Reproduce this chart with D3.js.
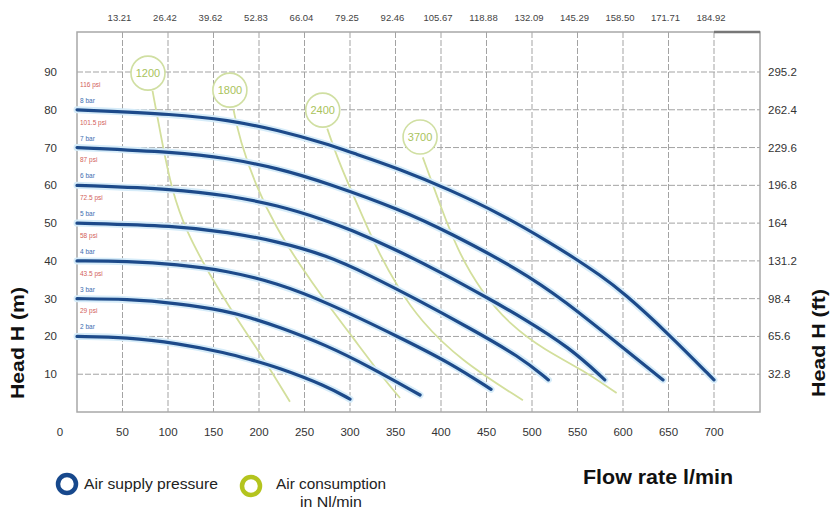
<!DOCTYPE html>
<html><head><meta charset="utf-8">
<script src="https://cdn.jsdelivr.net/npm/d3@7"></script>
<style>body{margin:0;background:#fff} svg{display:block}</style>
</head><body>
<svg id="c" width="830" height="510"></svg>
<script>
// ---------- data ----------
const flowTicks = [0,50,100,150,200,250,300,350,400,450,500,550,600,650,700];
const gpmLabels = ["13.21","26.42","39.62","52.83","66.04","79.25","92.46","105.67","118.88","132.09","145.29","158.50","171.71","184.92"];
const headTicks = [10,20,30,40,50,60,70,80,90];
const feetLabels = ["32.8","65.6","98.4","131.2","164","196.8","229.6","262.4","295.2"];

const barLabels = ["2 bar","3 bar","4 bar","5 bar","6 bar","7 bar","8 bar"];
const psiLabels = ["29 psi","43.5 psi","58 psi","72.5 psi","87 psi","101.5 psi","116 psi"];

// pump curves: [flow l/min, head m]
const curve2bar = [[0,20],[55,19.8],[110,18.2],[165,15.6],[190,13.9],[220,11.9],[275,6.8],[300,3.4]];
const curve3bar = [[0,30],[55,29.9],[110,28.8],[165,26.7],[190,25],[220,22.7],[275,17.6],[322,11.9],[377,4.5]];
const curve4bar = [[0,40],[55,39.9],[110,39.1],[165,37.4],[220,34.1],[275,29],[355,19.7],[410,13],[455,6]];
const curve5bar = [[0,50],[110,49.3],[165,47.6],[220,45.2],[275,41.4],[320,36.4],[375,29.6],[430,22.4],[487,14.6],[518,8.5]];
const curve6bar = [[0,60],[110,59],[165,57.3],[220,54.8],[275,50.6],[300,48.3],[345,43.6],[400,37],[457,29.4],[487,25.3],[542,17],[580,8.5]];
const curve7bar = [[0,70],[110,68.8],[165,67.2],[220,64.6],[275,60.6],[355,53.6],[410,47.4],[487,37.5],[535,29.6],[597,17.6],[644,8.5]];
const curve8bar = [[0,80],[110,78.8],[165,77.3],[220,74.7],[275,70.9],[300,68.8],[355,64.3],[410,58.8],[465,52.5],[520,44.8],[545,41],[575,36.2],[600,31.7],[650,20.7],[700,8.5]];

// air consumption lines (Nl/min)
const airLabels = ["1200","1800","2400","3700"];
const air1200 = [[83,85],[93,72],[104,58.8],[120,47.7],[146,36.3],[171,26.3],[204,14.6],[234,2.7]];
const air1800 = [[172,80],[179,72],[196,60.1],[219,48.7],[245,38.9],[272,29.6],[305,19.1],[338,8.5],[355,3.7]];
const air2400 = [[275,75],[289,65.3],[311,53.4],[330,42.8],[353,32.8],[377,24.3],[421,13.7],[490,3.1]];
const air3700 = [[380,67.4],[399,54.8],[418,42.9],[443,32.3],[476,23],[514,16.4],[556,11.1],[593,5]];
const airBubbles = [[78,89.7],[168,85.2],[270,79.9],[377,72.8]];

// ---------- drawing ----------
const svg = d3.select("#c");
const x = d3.scaleLinear().domain([0,700]).range([77,714]);
const y = d3.scaleLinear().domain([0,90]).range([412,72]);
const plotL = x(0), plotB = y(0), plotR = 760, plotT = 32;

const font = "'Liberation Sans', Arial, sans-serif";

// grid
svg.append("g").selectAll("line").data(flowTicks.slice(1)).join("line")
  .attr("x1", d => x(d)).attr("x2", d => x(d)).attr("y1", plotT).attr("y2", plotB)
  .attr("stroke", "#a3a3a3").attr("stroke-width", 1).attr("stroke-dasharray", "6,2");
svg.append("g").selectAll("line").data(headTicks).join("line")
  .attr("x1", plotL).attr("x2", plotR).attr("y1", d => y(d)).attr("y2", d => y(d))
  .attr("stroke", "#a3a3a3").attr("stroke-width", 1).attr("stroke-dasharray", "6,2");

// frame
svg.append("rect").attr("x", plotL).attr("y", plotT).attr("width", plotR-plotL).attr("height", plotB-plotT)
  .attr("fill", "none").attr("stroke", "#a8a8a8").attr("stroke-width", 1.5);
svg.append("line").attr("x1", x(700)).attr("x2", plotR).attr("y1", plotT).attr("y2", plotT)
  .attr("stroke", "#777").attr("stroke-width", 2.5);

// axis labels
svg.append("g").selectAll("text").data(headTicks).join("text")
  .attr("x", 57).attr("y", d => y(d)).attr("dy", "0.35em").attr("text-anchor", "end")
  .attr("font-family", font).attr("font-size", 11.5).attr("fill", "#333").text(d => d);
svg.append("g").selectAll("text").data(headTicks).join("text")
  .attr("x", 768).attr("y", d => y(d)).attr("dy", "0.35em").attr("text-anchor", "start")
  .attr("font-family", font).attr("font-size", 11.5).attr("fill", "#333").text((d,i) => feetLabels[i]);
svg.append("g").selectAll("text").data(flowTicks).join("text")
  .attr("x", d => d === 0 ? 60 : x(d)).attr("y", 436).attr("text-anchor", "middle")
  .attr("font-family", font).attr("font-size", 11.5).attr("fill", "#333").text(d => d);
svg.append("g").selectAll("text").data(flowTicks.slice(1)).join("text")
  .attr("x", d => x(d) - 3).attr("y", 21).attr("text-anchor", "middle")
  .attr("font-family", font).attr("font-size", 9.5).attr("fill", "#444").text((d,i) => gpmLabels[i]);

// air consumption lines
const line = d3.line().x(d => x(d[0])).y(d => y(d[1])).curve(d3.curveBasis);
const airSeries = [air1200, air1800, air2400, air3700];
svg.append("g").selectAll("path").data(airSeries).join("path")
  .attr("d", line).attr("fill", "none").attr("stroke", "#d3df9c").attr("stroke-width", 1.8);

const bub = svg.append("g").selectAll("g").data(airBubbles).join("g")
  .attr("transform", d => `translate(${x(d[0])},${y(d[1])})`);
bub.append("circle").attr("r", 17).attr("fill", "#fff").attr("stroke", "#d0dfa2").attr("stroke-width", 1.6);
bub.append("text").attr("text-anchor", "middle").attr("dy", "0.35em")
  .attr("font-family", font).attr("font-size", 11).attr("fill", "#a9c35c").text((d,i) => airLabels[i]);

// pump curves
const curves = [curve2bar, curve3bar, curve4bar, curve5bar, curve6bar, curve7bar, curve8bar];
const cg = svg.append("g");
cg.append("g").selectAll("path").data(curves).join("path")
  .attr("d", line).attr("fill", "none").attr("stroke", "#d6ecf9").attr("stroke-width", 7)
  .attr("stroke-linecap", "round");
cg.append("g").selectAll("path").data(curves).join("path")
  .attr("d", line).attr("fill", "none").attr("stroke", "#1d4a8a").attr("stroke-width", 3.2)
  .attr("stroke-linecap", "round");

// bar / psi labels
svg.append("g").selectAll("text").data(curves).join("text")
  .attr("x", 80).attr("y", d => y(d[0][1]) - 7)
  .attr("font-family", font).attr("font-size", 6.5).attr("fill", "#3d6db0").text((d,i) => barLabels[i]);
svg.append("g").selectAll("text").data(curves).join("text")
  .attr("x", 80).attr("y", d => y(d[0][1]) - 23)
  .attr("font-family", font).attr("font-size", 6.5).attr("fill", "#d2605a").text((d,i) => psiLabels[i]);

// axis titles
svg.append("text").attr("transform", "translate(24,343) rotate(-90)").attr("text-anchor", "middle")
  .attr("font-family", font).attr("font-weight", "bold").attr("font-size", 18).attr("fill", "#111")
  .attr("textLength", 112).attr("lengthAdjust", "spacingAndGlyphs").text("Head H (m)");
svg.append("text").attr("transform", "translate(825,343) rotate(-90)").attr("text-anchor", "middle")
  .attr("font-family", font).attr("font-weight", "bold").attr("font-size", 18).attr("fill", "#111")
  .attr("textLength", 108).attr("lengthAdjust", "spacingAndGlyphs").text("Head H (ft)");
svg.append("text").attr("x", 583).attr("y", 484)
  .attr("font-family", font).attr("font-weight", "bold").attr("font-size", 20).attr("fill", "#111")
  .attr("textLength", 150).attr("lengthAdjust", "spacingAndGlyphs").text("Flow rate l/min");

// legend
svg.append("circle").attr("cx", 67).attr("cy", 484).attr("r", 9)
  .attr("fill", "#fff").attr("stroke", "#17488c").attr("stroke-width", 4.5);
svg.append("text").attr("x", 84).attr("y", 489)
  .attr("font-family", font).attr("font-size", 14).attr("fill", "#222")
  .attr("textLength", 134).attr("lengthAdjust", "spacingAndGlyphs").text("Air supply pressure");
svg.append("circle").attr("cx", 251).attr("cy", 486).attr("r", 9)
  .attr("fill", "#fff").attr("stroke", "#b4c41e").attr("stroke-width", 4.5);
svg.append("text").attr("x", 331).attr("y", 489).attr("text-anchor", "middle")
  .attr("font-family", font).attr("font-size", 14).attr("fill", "#222")
  .attr("textLength", 110).attr("lengthAdjust", "spacingAndGlyphs").text("Air consumption");
svg.append("text").attr("x", 331).attr("y", 507).attr("text-anchor", "middle")
  .attr("font-family", font).attr("font-size", 14).attr("fill", "#222")
  .attr("textLength", 62).attr("lengthAdjust", "spacingAndGlyphs").text("in Nl/min");
</script>
</body></html>
